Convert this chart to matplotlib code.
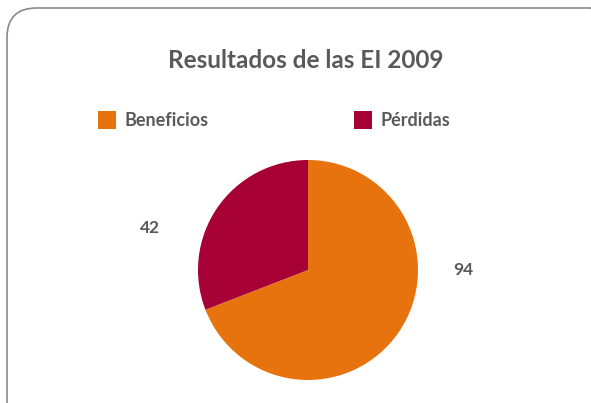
import matplotlib
matplotlib.use("Agg")
import matplotlib.pyplot as plt
from matplotlib.patches import FancyBboxPatch, Rectangle

categories = ["Beneficios", "Pérdidas"]
values = [94, 42]
title = "Resultados de las EI 2009"

colors = ["#E6730D", "#A60037"]
text_color = "#595959"
plt.rcParams['font.family'] = ['Lato', 'DejaVu Sans']

W, H = 591, 403
fig = plt.figure(figsize=(W / 100, H / 100), dpi=100)
fig.patch.set_facecolor("white")

# rounded frame (extends beyond right/bottom edges)
frame = FancyBboxPatch((7 / W, (H - 440) / H), 612 / W, 432 / H,
                       boxstyle="round,pad=0,rounding_size=0.05",
                       transform=fig.transFigure, fill=False,
                       edgecolor="#8a8a8a", linewidth=1.2,
                       mutation_aspect=W / H)
fig.patches.append(frame)

fig.text(306 / W, 1 - 60 / H, title, ha="center", va="center",
         fontsize=17.5, fontweight="bold", color=text_color)

# legend
leg_x = [98, 354]
for i, (cat, col) in enumerate(zip(categories, colors)):
    fig.patches.append(Rectangle((leg_x[i] / W, 1 - 129 / H), 18 / W, 18 / H,
                                 transform=fig.transFigure, facecolor=col,
                                 edgecolor="none"))
    fig.text((leg_x[i] + 27) / W, 1 - 121 / H, cat, ha="left", va="center",
             fontsize=13, fontweight="bold", color=text_color)

# pie
cx, cy, r = 308, 270, 110
ax = fig.add_axes([(cx - r) / W, (H - cy - r) / H, 2 * r / W, 2 * r / H])
ax.pie(values, colors=colors, startangle=90, counterclock=False,
       radius=1, wedgeprops=dict(linewidth=0))
ax.set_xlim(-1, 1)
ax.set_ylim(-1, 1)
ax.set_aspect("equal")
ax.axis("off")

label_pos = [(463, 270), (150, 228)]
for v, (px, py) in zip(values, label_pos):
    ax.text((px - cx) / r, (cy - py) / r, str(v), ha="center", va="center",
            fontsize=12.5, fontweight="bold", color=text_color, clip_on=False)

fig.savefig("out.png", dpi=100, facecolor="white")
